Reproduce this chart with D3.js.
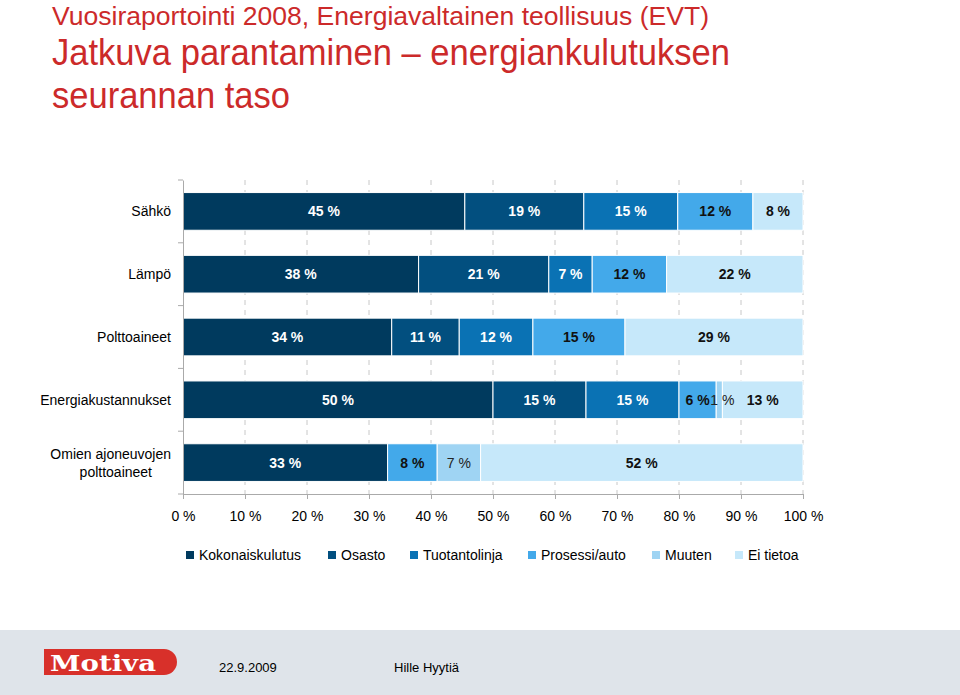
<!DOCTYPE html>
<html>
<head>
<meta charset="utf-8">
<script src="https://cdn.jsdelivr.net/npm/d3@7"></script>
<style>
  body { margin: 0; background: #fff; }
  svg { display: block; font-family: "Liberation Sans", Arial, sans-serif; }
</style>
</head>
<body>
<svg id="chart" width="960" height="695"></svg>
<script>
const categories = ["Sähkö", "Lämpö", "Polttoaineet", "Energiakustannukset", "Omien ajoneuvojen polttoaineet"];
const seriesNames = ["Kokonaiskulutus", "Osasto", "Tuotantolinja", "Prosessi/auto", "Muuten", "Ei tietoa"];
const kokonaiskulutus = [45, 38, 34, 50, 33];
const osasto          = [19, 21, 11, 15, 0];
const tuotantolinja   = [15, 7, 12, 15, 0];
const prosessiAuto    = [12, 12, 15, 6, 8];
const muuten          = [0, 0, 0, 1, 7];
const eiTietoa        = [8, 22, 29, 13, 52];
const xTicks = [0, 10, 20, 30, 40, 50, 60, 70, 80, 90, 100];

const seriesValues = [kokonaiskulutus, osasto, tuotantolinja, prosessiAuto, muuten, eiTietoa];
const colors = ["#003a5e", "#024f7f", "#0a72b4", "#43a9ea", "#9fd4f3", "#c6e8fa"];
const labelColors = ["#fff", "#fff", "#fff", "#111", "#222", "#111"];
const labelWeights = ["bold", "bold", "bold", "bold", "normal", "bold"];

const svg = d3.select("#chart");

// Title
const red = "#cc2a2a";
svg.append("text").attr("x", 52).attr("y", 25).attr("fill", red)
  .attr("font-size", 26).attr("textLength", 657).attr("lengthAdjust", "spacingAndGlyphs")
  .text("Vuosiraportointi 2008, Energiavaltainen teollisuus (EVT)");
svg.append("text").attr("x", 52).attr("y", 65).attr("fill", red)
  .attr("font-size", 36).attr("textLength", 678).attr("lengthAdjust", "spacingAndGlyphs")
  .text("Jatkuva parantaminen – energiankulutuksen");
svg.append("text").attr("x", 52).attr("y", 108).attr("fill", red)
  .attr("font-size", 36).attr("textLength", 238).attr("lengthAdjust", "spacingAndGlyphs")
  .text("seurannan taso");

// Scales
const x = d3.scaleLinear().domain([0, 100]).range([183, 803]);
const y = d3.scaleBand().domain(categories).range([180, 494]).paddingInner(0.4).paddingOuter(0.2);

// Gridlines
const grid = svg.append("g");
grid.selectAll("line").data(xTicks.slice(1)).join("line")
  .attr("x1", d => x(d)).attr("x2", d => x(d))
  .attr("y1", 180).attr("y2", 494)
  .attr("stroke", "#c8c8c8").attr("stroke-width", 1)
  .attr("stroke-dasharray", "5,5");

// Stack data (shares normalised to 100 %)
const rows = categories.map((c, i) => {
  const r = { cat: c };
  seriesNames.forEach((s, j) => r[s] = seriesValues[j][i]);
  return r;
});
const stacked = d3.stack().keys(seriesNames).offset(d3.stackOffsetExpand)(rows);
const val = (d, key) => d.data[key];

const layers = svg.append("g").selectAll("g").data(stacked).join("g")
  .attr("fill", (d, i) => colors[i]);
layers.selectAll("rect").data(d => d.filter(p => p[1] - p[0] > 0)).join("rect")
  .attr("x", d => x(d[0] * 100))
  .attr("width", d => x(d[1] * 100) - x(d[0] * 100))
  .attr("y", d => y(d.data.cat))
  .attr("height", y.bandwidth())
  .attr("stroke", "#fff").attr("stroke-width", 1);

// Labels
stacked.forEach((layer, i) => {
  const key = layer.key;
  svg.append("g").selectAll("text").data(layer.filter(p => p[1] - p[0] > 0)).join("text")
    .attr("x", d => {
      const cx = (x(d[0] * 100) + x(d[1] * 100)) / 2;
      return key === "Muuten" && d.data[key] < 3 ? cx + 3 : cx;
    })
    .attr("y", d => y(d.data.cat) + y.bandwidth() / 2)
    .attr("dy", "0.36em")
    .attr("text-anchor", "middle")
    .attr("font-size", 14)
    .attr("font-weight", labelWeights[i])
    .attr("fill", labelColors[i])
    .text(d => val(d, key) + " %");
});

// X axis
const xAxis = svg.append("g").attr("transform", "translate(0,494)")
  .call(d3.axisBottom(x).tickValues(xTicks).tickFormat(d => d + " %").tickSize(5).tickPadding(12));
xAxis.select(".domain").attr("stroke", "#aaa");
xAxis.selectAll(".tick line").attr("stroke", "#aaa");
xAxis.selectAll("text").attr("font-size", 14).attr("fill", "#000")
  .attr("font-family", "Liberation Sans, Arial, sans-serif");

// Y axis
const yAxis = svg.append("g").attr("transform", "translate(183,0)")
  .call(d3.axisLeft(y).tickSize(0).tickFormat(""));
yAxis.select(".domain").attr("stroke", "#aaa");
const seps = categories.map(c => y(c) - y.step() * y.paddingInner() / 2).concat([494]);
svg.append("g").selectAll("line").data(seps).join("line")
  .attr("x1", 178).attr("x2", 183).attr("y1", d => d).attr("y2", d => d)
  .attr("stroke", "#aaa");

// Category labels
categories.forEach(c => {
  const cy = y(c) + y.bandwidth() / 2;
  const t = svg.append("text").attr("text-anchor", "end").attr("font-size", 14).attr("fill", "#000");
  if (c === "Omien ajoneuvojen polttoaineet") {
    t.append("tspan").attr("x", 171).attr("y", cy - 4).text("Omien ajoneuvojen");
    t.append("tspan").attr("x", 152).attr("y", cy + 14).text("polttoaineet");
  } else {
    t.attr("x", 171).attr("y", cy + 5).text(c);
  }
});

// Legend
const legendX = [186, 328, 410, 528, 652, 735];
const legend = svg.append("g");
seriesNames.forEach((s, i) => {
  legend.append("rect").attr("x", legendX[i]).attr("y", 551).attr("width", 8).attr("height", 8)
    .attr("fill", colors[i]);
  legend.append("text").attr("x", legendX[i] + 13).attr("y", 560).attr("font-size", 14)
    .attr("fill", "#000").text(s);
});

// Footer
svg.append("rect").attr("x", 0).attr("y", 630).attr("width", 960).attr("height", 65).attr("fill", "#dfe4ea");
svg.append("path")
  .attr("d", "M44,649 H164 A13,13 0 0 1 164,675 H44 Z")
  .attr("fill", "#d8302a");
svg.append("text").attr("x", 50).attr("y", 671)
  .attr("font-family", "DejaVu Serif, Liberation Serif, serif").attr("font-weight", "bold")
  .attr("font-size", 22).attr("textLength", 106).attr("lengthAdjust", "spacingAndGlyphs")
  .attr("fill", "#fff").text("Motiva");
svg.append("text").attr("x", 219).attr("y", 672).attr("font-size", 13).attr("fill", "#000").text("22.9.2009");
svg.append("text").attr("x", 394).attr("y", 672).attr("font-size", 13).attr("fill", "#000").text("Hille Hyytiä");
</script>
</body>
</html>
